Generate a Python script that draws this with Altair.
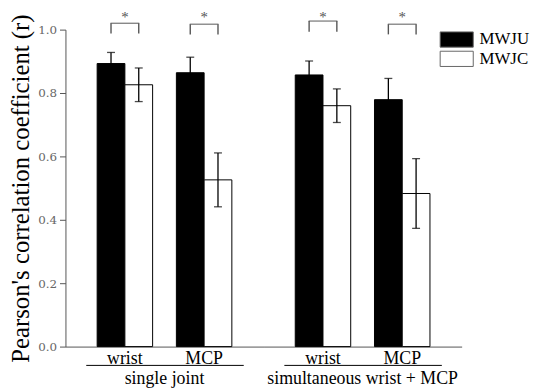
import altair as alt
import pandas as pd

# ---- data ----
groups = ["single joint", "single joint", "simultaneous wrist + MCP", "simultaneous wrist + MCP"]
joints = ["wrist", "MCP", "wrist", "MCP"]
series = ["MWJU", "MWJC"]
mwju_mean = [0.893, 0.864, 0.857, 0.779]
mwju_err = [0.035, 0.049, 0.044, 0.067]
mwjc_mean = [0.826, 0.526, 0.760, 0.483]
mwjc_err = [0.053, 0.085, 0.053, 0.110]
sig_top = [1.020, 1.017, 1.027, 1.017]
sig_bottom = [0.988, 0.985, 0.993, 0.985]
sig_star = [1.061, 1.061, 1.061, 1.061]
sig_label = ["*", "*", "*", "*"]
y_ticks = [0.0, 0.2, 0.4, 0.6, 0.8, 1.0]
group_order = ["single joint", "simultaneous wrist + MCP"]
joint_order = ["wrist", "MCP"]

rows = []
for i in range(4):
    for s, m, e in (("MWJU", mwju_mean[i], mwju_err[i]), ("MWJC", mwjc_mean[i], mwjc_err[i])):
        rows.append(dict(group=groups[i], joint=joints[i], series=s, mean=m,
                         lo=m - e, hi=m + e, sig_top=sig_top[i], sig_bottom=sig_bottom[i],
                         sig_star=sig_star[i], sig=sig_label[i]))
df = pd.DataFrame(rows)

SERIF = "Liberation Serif"
GRAY = "#555555"

x_axis = alt.Axis(title=None, labelAngle=0, ticks=False, tickSize=0, labelFont=SERIF,
                  labelFontSize=18, labelColor="black", labelPadding=3,
                  domainColor=GRAY, domainWidth=1)
X = alt.X("joint:N", sort=joint_order,
          scale=alt.Scale(paddingInner=0.3, paddingOuter=0.4), axis=x_axis)
XO = alt.XOffset("series:N", sort=series, scale=alt.Scale(paddingInner=0, paddingOuter=0))
y_scale = alt.Scale(domain=[0, 1])
y_axis = alt.Axis(title="Pearson's correlation coefficient (r)", values=y_ticks, format=".1f",
                  grid=False, tickSize=6, tickColor=GRAY, domainColor=GRAY,
                  labelFont="DejaVu Serif", labelFontSize=12, labelColor="#666666",
                  labelPadding=3, titleFont=SERIF, titleFontSize=25,
                  titleFontWeight="normal", titleColor="black", titlePadding=4)

base = alt.Chart()

bars = base.mark_bar(stroke="black", strokeWidth=1).encode(
    x=X, xOffset=XO,
    y=alt.Y("mean:Q", scale=y_scale, axis=y_axis),
    fill=alt.Fill("series:N", sort=series,
                  scale=alt.Scale(domain=series, range=["black", "white"]),
                  legend=alt.Legend(title=None, orient="none", legendX=386, legendY=1,
                                    symbolType="M-2,-0.92H2V0.92H-2Z", symbolSize=279,
                                    symbolStrokeColor="#666666", symbolStrokeWidth=1,
                                    labelFont=SERIF, labelFontSize=17, labelColor="black",
                                    labelOffset=14, rowPadding=-0.5, padding=0)),
)

err = base.mark_rule(color="black", strokeWidth=1.3).encode(
    x=X, xOffset=XO, y=alt.Y("lo:Q", scale=y_scale), y2="hi:Q")
cap_hi = base.mark_tick(color="black", size=8, thickness=1.3).encode(
    x=X, xOffset=XO, y=alt.Y("hi:Q", scale=y_scale))
cap_lo = base.mark_tick(color="black", size=8, thickness=1.3).encode(
    x=X, xOffset=XO, y=alt.Y("lo:Q", scale=y_scale))

first = base.transform_filter(alt.datum.series == "MWJU")
br_h = first.mark_tick(color=GRAY, size=29, thickness=1.4).encode(
    x=X, y=alt.Y("sig_top:Q", scale=y_scale))
br_v = base.mark_rule(color=GRAY, strokeWidth=1.4).encode(
    x=X, xOffset=XO, y=alt.Y("sig_top:Q", scale=y_scale), y2="sig_bottom:Q")
stars = first.mark_text(color=GRAY, font=SERIF, fontSize=15, baseline="top").encode(
    x=X, y=alt.Y("sig_star:Q", scale=y_scale), text="sig:N")

underline = base.transform_filter(
    (alt.datum.series == "MWJU") & (alt.datum.joint == "wrist")
).mark_rule(color="black", strokeWidth=1).encode(
    x=alt.value(21), x2=alt.value(180), y=alt.value(339))

layered = alt.layer(bars, err, cap_hi, cap_lo, br_h, br_v, stars, underline).properties(
    width=200, height=320)

chart = layered.facet(
    column=alt.Column("group:N", sort=group_order, title=None,
                      header=alt.Header(labelOrient="bottom", labelFont=SERIF,
                                        labelFontSize=18, labelColor="black",
                                        labelPadding=3)),
    data=df, spacing=0, bounds="flush",
).configure(font=SERIF).configure_view(stroke=None).configure_axisX(
    labelFont=SERIF).configure_axisY(labelFont="DejaVu Serif").configure_legend(
    labelFont=SERIF).properties(padding={"left": 0, "top": 0, "right": 0, "bottom": 0})

chart.save("out.html", embed_options={"renderer": "svg", "actions": False})
